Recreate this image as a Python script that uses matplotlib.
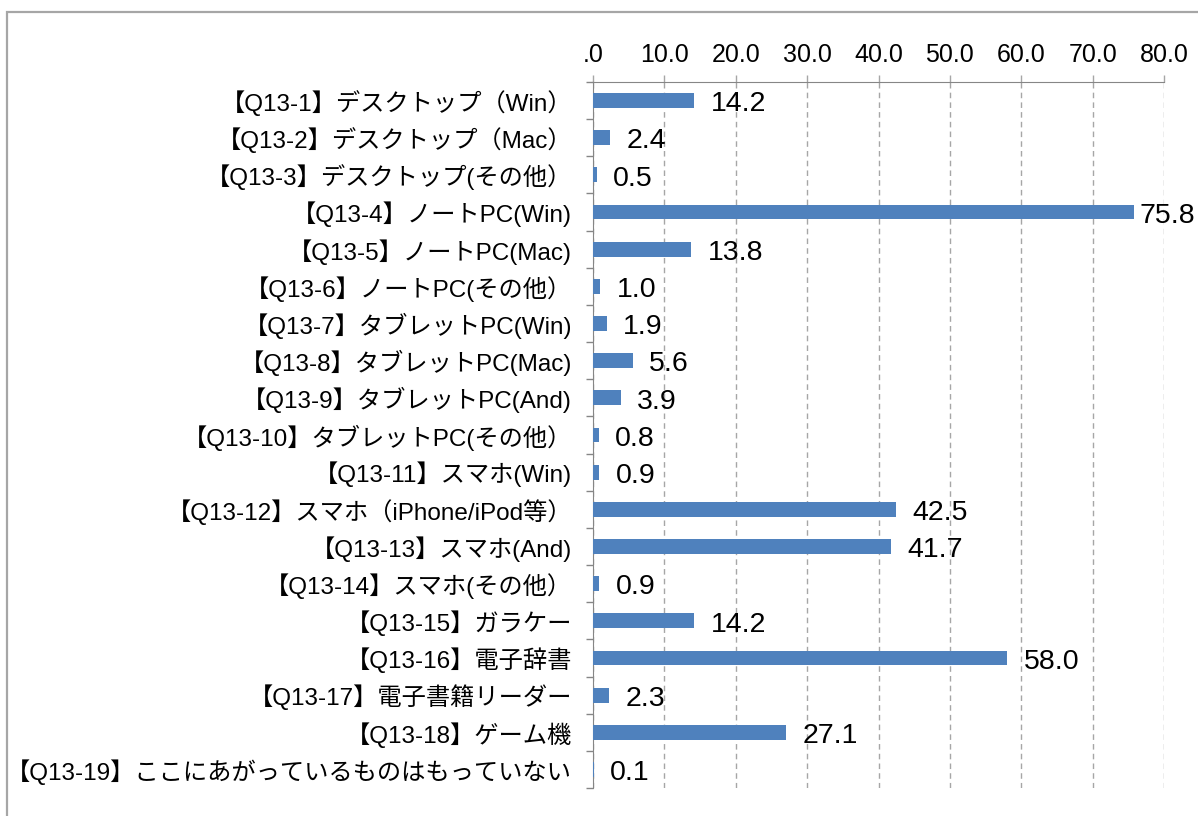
import matplotlib
matplotlib.use("Agg")
import matplotlib.pyplot as plt
from matplotlib.patches import Rectangle
from matplotlib.ticker import FixedLocator

plt.rcParams['font.family'] = ['Liberation Sans', 'Noto Sans CJK JP', 'DejaVu Sans']

categories = [
    "【Q13-1】デスクトップ（Win）",
    "【Q13-2】デスクトップ（Mac）",
    "【Q13-3】デスクトップ(その他）",
    "【Q13-4】ノートPC(Win)",
    "【Q13-5】ノートPC(Mac)",
    "【Q13-6】ノートPC(その他）",
    "【Q13-7】タブレットPC(Win)",
    "【Q13-8】タブレットPC(Mac)",
    "【Q13-9】タブレットPC(And)",
    "【Q13-10】タブレットPC(その他）",
    "【Q13-11】スマホ(Win)",
    "【Q13-12】スマホ（iPhone/iPod等）",
    "【Q13-13】スマホ(And)",
    "【Q13-14】スマホ(その他）",
    "【Q13-15】ガラケー",
    "【Q13-16】電子辞書",
    "【Q13-17】電子書籍リーダー",
    "【Q13-18】ゲーム機",
    "【Q13-19】ここにあがっているものはもっていない",
]
values = [14.2, 2.4, 0.5, 75.8, 13.8, 1.0, 1.9, 5.6, 3.9, 0.8, 0.9,
          42.5, 41.7, 0.9, 14.2, 58.0, 2.3, 27.1, 0.1]
x_ticks = [0, 10, 20, 30, 40, 50, 60, 70, 80]
x_tick_labels = [".0", "10.0", "20.0", "30.0", "40.0", "50.0", "60.0", "70.0", "80.0"]

W, H = 1198, 816
fig = plt.figure(figsize=(W / 100, H / 100), dpi=100)
fig.patch.set_facecolor("white")

# outer chart frame
fig.add_artist(Rectangle((7 / W, -0.05), 1.2, 1 - 12 / H + 0.05,
                         transform=fig.transFigure, fill=False,
                         edgecolor="#A6A6A6", linewidth=1.6))

ax = fig.add_axes([593 / W, 1 - 788 / H, (1164 - 593) / W, (788 - 82) / H])
ypos = list(range(len(categories)))
ax.barh(ypos, values, height=0.40, color="#4F81BD", zorder=3)

ax.set_xlim(0, 80)
ax.set_ylim(len(categories) - 0.5, -0.5)

ax.xaxis.tick_top()
ax.set_xticks(x_ticks)
ax.set_xticklabels(x_tick_labels, fontsize=18)
ax.tick_params(axis='x', which='major', direction='out', length=5,
               color="#A6A6A6", pad=6, width=1)

ax.set_yticks(ypos)
ax.set_yticklabels(categories, fontsize=17.5)
ax.tick_params(axis='y', which='major', length=0, pad=15)
ax.yaxis.set_minor_locator(FixedLocator([i - 0.5 for i in range(len(categories) + 1)]))
ax.tick_params(axis='y', which='minor', direction='out', length=5,
               color="#868686", width=1)

ax.grid(axis='x', linestyle=(0, (4, 3)), color="#A6A6A6", linewidth=1, zorder=0)

for side in ["right", "bottom"]:
    ax.spines[side].set_visible(False)
ax.spines["top"].set_color("#868686")
ax.spines["left"].set_color("#868686")
ax.spines["top"].set_zorder(4)

label_offset = 2.3      # data units gap between bar end and label
label_max_x = 76.6      # keep label inside the chart
for y, v in zip(ypos, values):
    ax.text(min(v + label_offset, label_max_x), y + 0.1, f"{v:.1f}",
            va="center", ha="left", fontsize=20.5, color="black", zorder=5)

fig.savefig("out.png", dpi=100)
